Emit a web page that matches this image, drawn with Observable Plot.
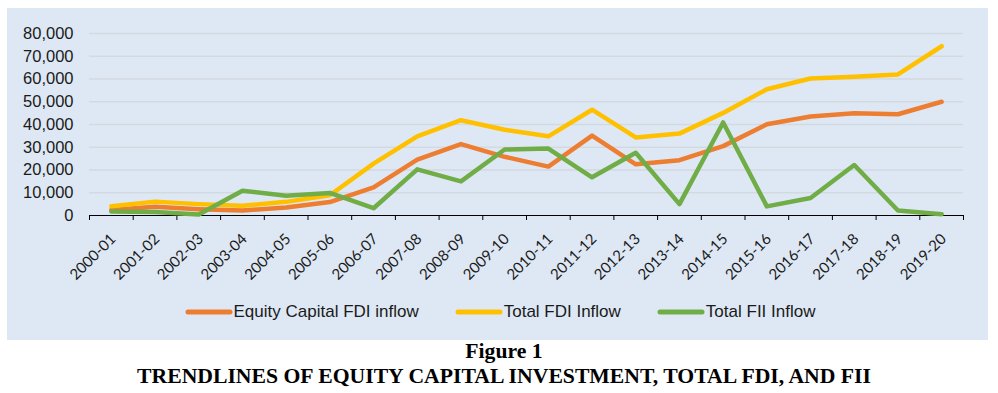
<!DOCTYPE html>
<html>
<head>
<meta charset="utf-8">
<script src="https://cdn.jsdelivr.net/npm/d3@7"></script>
<script src="https://cdn.jsdelivr.net/npm/@observablehq/plot@0.6"></script>
<style>
  html, body { margin: 0; padding: 0; background: #fff; width: 998px; height: 393px; overflow: hidden; }
  #panel { position: absolute; left: 7px; top: 8px; width: 981px; height: 332px; background: #dee8f4; }
  #chart { position: absolute; left: 0; top: 0; }
  #legend { position: absolute; left: 0; top: 302px; width: 1000px; height: 20px; display: flex; justify-content: center; align-items: center;
            font-family: "Liberation Sans", Arial, sans-serif; font-size: 17px; color: #1a1a1a; }
  .item { display: flex; align-items: center; margin: 0 18px; }
  .item svg { margin-right: 1px; }
  #title { position: absolute; left: 0; top: 339px; width: 1008px; text-align: center; font-family: "Liberation Serif", "Times New Roman", serif;
           font-weight: bold; font-size: 21.7px; line-height: 25px; color: #000; }
</style>
</head>
<body>
<div id="panel"><div id="chart"></div></div>
<div id="legend"></div>
<div id="title">Figure 1<br>TRENDLINES OF EQUITY CAPITAL INVESTMENT, TOTAL FDI, AND FII</div>
<script>
const years = ["2000-01","2001-02","2002-03","2003-04","2004-05","2005-06","2006-07","2007-08","2008-09","2009-10",
               "2010-11","2011-12","2012-13","2013-14","2014-15","2015-16","2016-17","2017-18","2018-19","2019-20"];
const equityFDI = [2400, 3800, 2800, 2200, 3500, 5900, 12400, 24600, 31400, 25800, 21500, 35100, 22500, 24300, 30500, 40100, 43500, 44900, 44500, 50000];
const totalFDI  = [4100, 6100, 5000, 4300, 6000, 8900, 22800, 34800, 41900, 37700, 34800, 46500, 34300, 36000, 45100, 55500, 60200, 61000, 62000, 74400];
const totalFII  = [1800, 1500, 400, 10900, 8700, 9900, 3200, 20300, 15000, 29000, 29400, 16800, 27600, 5000, 40900, 4000, 7700, 22200, 2200, 600];
const seriesNames = ["Equity Capital FDI inflow", "Total FDI Inflow", "Total FII Inflow"];
const seriesColors = ["#ED7D31", "#FFC000", "#70AD47"];
const yTicks = [0, 10000, 20000, 30000, 40000, 50000, 60000, 70000, 80000];

const seriesValues = [equityFDI, totalFDI, totalFII];
const data = seriesValues.flatMap((vals, s) => vals.map((v, i) => ({series: seriesNames[s], i: i + 0.5, value: v})));

const chart = Plot.plot({
  width: 981,
  height: 290,
  marginLeft: 82,
  marginRight: 25,
  marginTop: 25,
  marginBottom: 83,
  style: {background: "transparent", fontFamily: "'Liberation Sans', Arial, sans-serif", color: "#1a1a1a"},
  x: {domain: [0, years.length], axis: null},
  y: {domain: [0, 80000], axis: null},
  color: {domain: seriesNames, range: seriesColors},
  marks: [
    Plot.ruleY(yTicks.slice(1), {stroke: "#d3d9e1", strokeWidth: 1.5}),
    Plot.axisX(d3.range(years.length + 1), {tickSize: 5, tickFormat: () => "", label: null, stroke: "#000", strokeOpacity: 1}),
    Plot.axisX(d3.range(years.length).map(i => i + 0.5), {
      tickSize: 0, tickPadding: 21, tickRotate: -45, dx: 2, label: null,
      tickFormat: d => years[Math.floor(d)], fontSize: 15, fontFamily: "Lato, 'Liberation Sans', sans-serif", fill: "#1a1a1a"
    }),
    Plot.axisY(yTicks, {tickSize: 0, tickPadding: 16, label: null, tickFormat: d3.format(","), fontSize: 16.5, fill: "#1a1a1a"}),
    Plot.ruleY([0], {stroke: "#000", strokeWidth: 1.2}),
    Plot.line(data, {x: "i", y: "value", z: "series", stroke: "series", strokeWidth: 4.5, strokeLinecap: "round", strokeLinejoin: "round"})
  ]
});
document.getElementById("chart").appendChild(chart);

const legend = document.getElementById("legend");
seriesNames.forEach((name, s) => {
  const item = document.createElement("div");
  item.className = "item";
  item.innerHTML = `<svg width="48" height="10"><line x1="3" y1="5" x2="45" y2="5" stroke="${seriesColors[s]}" stroke-width="5" stroke-linecap="round"/></svg><span>${name}</span>`;
  legend.appendChild(item);
});
</script>
</body>
</html>
